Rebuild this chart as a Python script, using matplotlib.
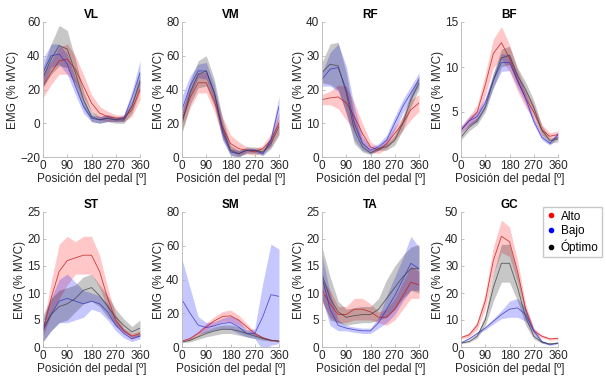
import numpy as np
import matplotlib
matplotlib.use("Agg")
import matplotlib.pyplot as plt

plt.rcParams['font.family'] = ['Liberation Sans', 'DejaVu Sans']

# Ángulo del pedal (grados)
angulo = [0, 30, 60, 90, 120, 150, 180, 210, 240, 270, 300, 330, 360]

musculos = ['VL', 'VM', 'RF', 'BF', 'ST', 'SM', 'TA', 'GC']
ylims = [(-20, 60), (0, 80), (0, 40), (0, 15), (0, 25), (0, 80), (0, 25), (0, 50)]
yticks = [[-20, 0, 20, 40, 60], [0, 20, 40, 60, 80], [0, 10, 20, 30, 40], [0, 5, 10, 15],
          [0, 5, 10, 15, 20, 25], [0, 20, 40, 60, 80], [0, 5, 10, 15, 20, 25], [0, 10, 20, 30, 40, 50]]

# Medias y desviaciones: Alto (rojo), Bajo (azul), Óptimo (negro)
alto_media = {
    'VL': [22, 30, 37, 38, 32, 22, 12, 6, 4, 3, 3, 8, 20],
    'VM': [22, 35, 44, 44, 33, 18, 8, 5, 4, 3, 5, 10, 20],
    'RF': [17, 17.5, 17.8, 16, 12, 7, 3, 2, 4, 7, 10, 14, 16],
    'BF': [3, 4, 5, 8, 11.5, 12.7, 11, 8.5, 6.5, 5, 3, 2.3, 2.5],
    'ST': [3, 9, 14, 16, 16.5, 17, 17, 14, 9, 5, 3, 2, 2.5],
    'SM': [3.5, 5, 8, 12, 15.5, 18, 18.5, 16, 12, 8, 5.5, 4, 3.5],
    'TA': [10.5, 8, 6, 6, 7, 7, 6.5, 5.5, 5.5, 7, 9.5, 12, 11.5],
    'GC': [3.5, 4.5, 8, 17, 32, 41, 39, 28, 14, 6, 4, 3, 3.2],
}
alto_sd = {
    'VL': [7, 7, 8, 9, 8, 7, 5, 4, 3, 2, 2, 4, 6],
    'VM': [6, 6, 6, 6, 6, 6, 5, 4, 2, 2, 2, 4, 6],
    'RF': [1.5, 2, 3.5, 5, 4, 3, 1.5, 1, 1.5, 2, 2, 3, 2.5],
    'BF': [0.4, 0.5, 0.8, 1.2, 1.6, 1.8, 1.5, 1.2, 1, 0.8, 0.6, 0.4, 0.4],
    'ST': [1, 3, 5, 4.5, 3, 3.5, 3.5, 3, 2, 1, 0.5, 0.5, 0.5],
    'SM': [0.5, 1, 1.5, 2, 2.5, 3, 3.5, 3, 2, 1, 0.5, 0.5, 0.5],
    'TA': [2, 2.5, 1.5, 1.5, 2, 2, 1.5, 1, 1.5, 2, 2.5, 3, 2.5],
    'GC': [0.5, 0.8, 1.5, 3, 5, 6, 5.5, 4, 2, 1, 0.6, 0.5, 0.5],
}
bajo_media = {
    'VL': [30, 40, 41, 35, 22, 10, 3, 2, 3, 2, 3, 15, 30],
    'VM': [28, 42, 51, 51, 38, 15, 3, 2, 4, 4, 2, 10, 30],
    'RF': [23, 26, 26.5, 20, 10, 4, 2, 3, 5, 10, 15, 19, 23],
    'BF': [3, 4, 4.5, 6, 8.5, 10.5, 10.5, 8.5, 6.5, 4, 2.2, 1.5, 2.5],
    'ST': [3, 6, 8.5, 9, 8.5, 8, 8.5, 8, 6.5, 4, 2.5, 1.5, 2],
    'SM': [28, 20, 13, 11.5, 12.5, 14, 14.5, 12, 8, 8, 18, 31, 30],
    'TA': [13, 7, 4, 3.5, 3.2, 3, 3, 4.5, 7, 9.5, 12.5, 15.5, 14.5],
    'GC': [1.5, 3, 5, 7, 9.5, 12, 14, 14.5, 12, 6, 2, 0.8, 1.5],
}
bajo_sd = {
    'VL': [8, 7, 6, 6, 5, 4, 2, 2, 2, 1, 2, 4, 7],
    'VM': [8, 6, 4, 5, 5, 5, 2, 2, 1, 1, 1, 3, 6],
    'RF': [2, 5, 7, 7, 5, 2, 1, 1, 1.5, 2, 2, 2, 2],
    'BF': [0.4, 0.5, 0.6, 0.6, 0.8, 1, 0.9, 0.8, 0.6, 0.4, 0.3, 0.2, 0.3],
    'ST': [2, 3, 4, 4.5, 3.5, 2.5, 1.5, 1.5, 1.5, 1, 0.8, 0.5, 0.5],
    'SM': [24, 15, 5, 3, 2.5, 3, 4, 4, 2, 3, 20, 30, 28],
    'TA': [4, 3, 1, 0.5, 0.5, 0.5, 0.5, 1, 2.5, 3.5, 4, 5, 4],
    'GC': [0.3, 0.3, 0.4, 0.6, 1, 1.5, 3, 3.5, 2.5, 1, 0.5, 0.2, 0.3],
}
optimo_media = {
    'VL': [27, 38, 46, 44, 30, 14, 4, 2, 3, 2, 2, 10, 25],
    'VM': [20, 38, 49, 51, 38, 17, 4, 2, 4, 4, 3, 8, 18],
    'RF': [25, 27.5, 27, 19, 8, 3, 1.2, 2.5, 3, 5, 10, 17, 22],
    'BF': [2.2, 3.3, 4, 5.5, 8.5, 11, 11.3, 9, 7.5, 5.5, 3, 1.8, 2],
    'ST': [3.5, 6, 7.5, 8, 9, 10.5, 11, 9.5, 7.5, 5.5, 4, 2.8, 3.5],
    'SM': [3, 4, 6, 8, 9.5, 10.5, 10.5, 9.5, 8, 6.5, 5, 4, 3.5],
    'TA': [13.5, 9, 6.5, 5.5, 5.8, 6, 6, 7, 9, 11, 13, 14.5, 14.5],
    'GC': [1.5, 2, 4, 10, 22, 31, 31, 22, 11, 4, 1.8, 1.2, 1.5],
}
optimo_sd = {
    'VL': [6, 9, 12, 11, 8, 5, 3, 2, 2, 2, 2, 4, 6],
    'VM': [6, 7, 8, 9, 8, 6, 3, 2, 2, 2, 2, 3, 5],
    'RF': [3, 6, 7, 6, 4, 1.5, 0.5, 0.5, 1, 1.5, 2, 2, 2],
    'BF': [0.3, 0.4, 0.4, 0.5, 0.8, 1, 1, 0.9, 0.8, 0.8, 0.5, 0.3, 0.3],
    'ST': [2.5, 3, 3, 3, 2.5, 2.5, 2.5, 2, 2, 1.5, 1.2, 1, 1.5],
    'SM': [0.5, 1, 1.5, 2, 2.5, 2.5, 2.5, 2.5, 2, 1.5, 1, 0.5, 0.5],
    'TA': [5, 4, 2, 1.5, 1.5, 1.5, 1.5, 2, 3.5, 4, 4, 4, 4.5],
    'GC': [0.2, 0.3, 0.7, 2, 5, 7, 7, 5, 3, 1, 0.4, 0.2, 0.2],
}

grupos = [
    ('Alto', alto_media, alto_sd, (1, 0, 0), (0.75, 0.1, 0.1)),
    ('Bajo', bajo_media, bajo_sd, (0, 0, 1), (0.2, 0.2, 0.75)),
    ('Óptimo', optimo_media, optimo_sd, (0, 0, 0), (0.25, 0.25, 0.25)),
]

W, H = 606, 380
fig = plt.figure(figsize=(W / 100, H / 100), dpi=100)

lefts = [43, 182, 322, 461]
tops = [22, 212]
aw, ah = 97, 135

x = np.array(angulo)
for k, m in enumerate(musculos):
    fila, col = divmod(k, 4)
    ax = fig.add_axes([lefts[col] / W, 1 - (tops[fila] + ah) / H, aw / W, ah / H])
    for nombre, med, sd, cband, cline in grupos:
        mu = np.array(med[m])
        s = np.array(sd[m])
        ax.fill_between(x, mu - s, mu + s, color=cband, alpha=0.22, linewidth=0)
        ax.plot(x, mu, color=cline, linewidth=0.6, alpha=0.8)
    ax.set_xlim(0, 360)
    ax.set_ylim(*ylims[k])
    ax.set_xticks([0, 90, 180, 270, 360])
    ax.set_yticks(yticks[k])
    ax.set_title(m, fontsize=8.5, fontweight='bold', pad=3)
    ax.set_xlabel('Posición del pedal [º]', fontsize=8.5, color='#262626', labelpad=1)
    ax.set_ylabel('EMG (% MVC)', fontsize=8.5, color='#262626', labelpad=1)
    for s in ['top', 'right']:
        ax.spines[s].set_visible(False)
    for s in ['left', 'bottom']:
        ax.spines[s].set_color('#b5b5b5')
        ax.spines[s].set_linewidth(0.6)
    ax.tick_params(direction='in', length=2.5, width=0.6, color='#b5b5b5',
                   labelsize=8.5, labelcolor='#262626', pad=2)

# Leyenda
from matplotlib.lines import Line2D
handles = [Line2D([], [], linestyle='none', marker='o', markersize=3, color=c[3],
                  label=c[0]) for c in grupos]
fig.legend(handles=handles, loc='upper left', bbox_to_anchor=(543 / W, 1 - 207 / H),
           fontsize=8.5, frameon=True, fancybox=False, edgecolor='#bbbbbb',
           handlelength=0.8, handletextpad=0.4, borderpad=0.3, labelspacing=0.2,
           borderaxespad=0)

fig.savefig('out.png', dpi=100)
